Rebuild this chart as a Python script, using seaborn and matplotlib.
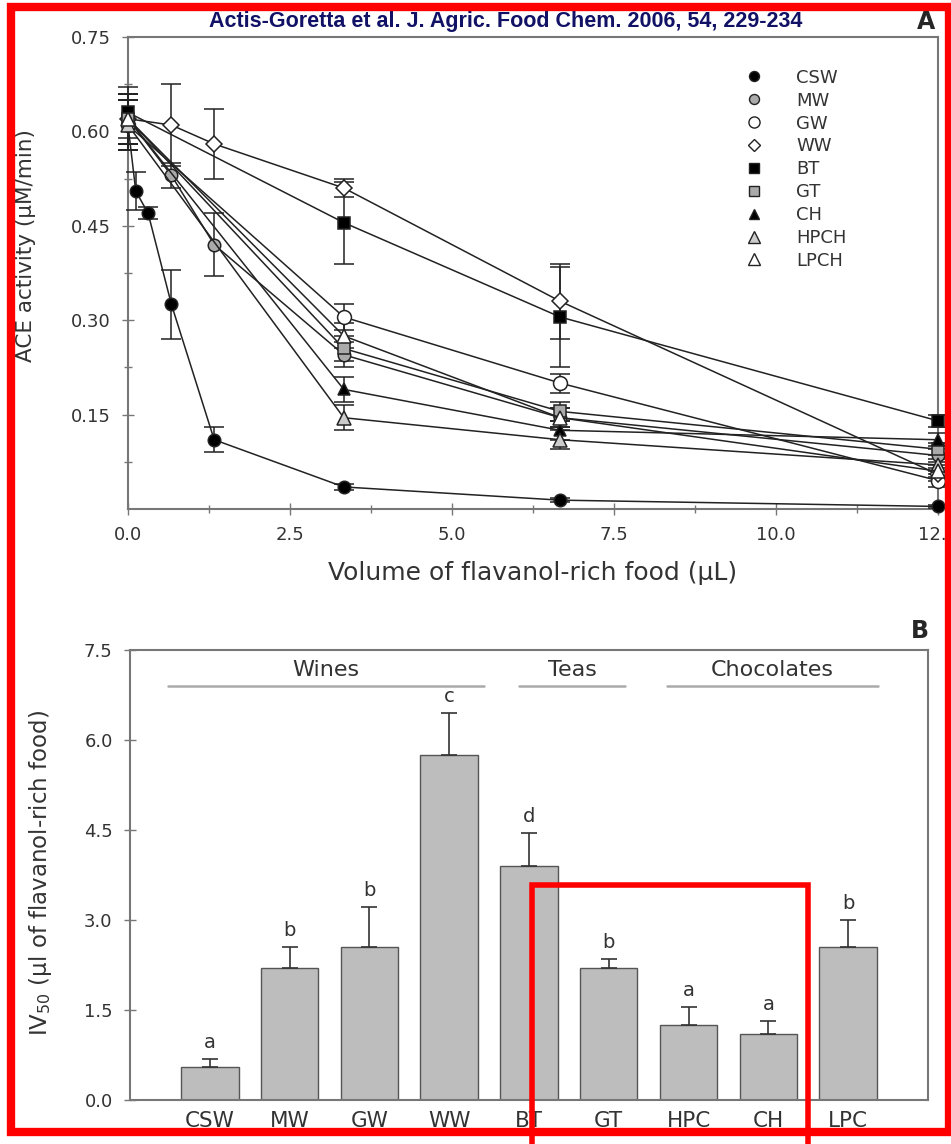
import matplotlib
matplotlib.use('Agg')
import matplotlib.pyplot as plt
import matplotlib.patches as mpatches
from matplotlib.lines import Line2D
import numpy as np
import pandas as pd
import seaborn as sns

# panel A: ACE activity vs volume
vol = [0, 0.67, 1.33, 3.33, 6.67, 12.5]
vol_short = [0, 3.33, 6.67, 12.5]
csw_vol = [0, 0.12, 0.31, 0.67, 1.33, 3.33, 6.67, 12.5]
csw = [0.61, 0.505, 0.47, 0.325, 0.11, 0.035, 0.014, 0.004]
csw_err = [0.04, 0.03, 0.01, 0.055, 0.02, 0.005, 0.003, 0.002]
mw = [0.62, 0.53, 0.42, 0.245, 0.145, 0.085]
mw_err = [0.04, 0.02, 0.05, 0.02, 0.015, 0.01]
gw = [0.61, 0.305, 0.20, 0.045]
ww = [0.62, 0.61, 0.58, 0.51, 0.33, 0.055]
ww_err = [0.04, 0.065, 0.055, 0.015, 0.06, 0.01]
bt = [0.63, 0.455, 0.305, 0.14]
bt_err = [0.04, 0.065, 0.08, 0.01]
gt = [0.62, 0.255, 0.155, 0.095]
ch = [0.62, 0.19, 0.125, 0.11]
hpch = [0.61, 0.145, 0.11, 0.07]
lpch = [0.62, 0.275, 0.145, 0.06]
err_small = [0.04, 0.02, 0.015, 0.01]

# panel B: IV50
foods = ['CSW', 'MW', 'GW', 'WW', 'BT', 'GT', 'HPC', 'CH', 'LPC']
iv50 = [0.55, 2.2, 2.55, 5.75, 3.9, 2.2, 1.25, 1.1, 2.55]
iv50_err = [0.13, 0.35, 0.67, 0.7, 0.55, 0.15, 0.3, 0.22, 0.45]
letters = ['a', 'b', 'b', 'c', 'd', 'b', 'a', 'a', 'b']
groups = ['Wines', 'Teas', 'Chocolates']

sns.set_style('ticks')
plt.rcParams['font.family'] = ['DejaVu Sans']
txt = '#333333'
spine = '#777777'

fig = plt.figure(figsize=(9.51, 11.44), dpi=100)
ax = fig.add_axes([0.1346, 0.5551, 0.8517, 0.4126])
ax2 = fig.add_axes([0.1367, 0.0385, 0.8390, 0.3934])

series = [
    ('CSW', csw_vol, csw, csw_err, 'o', 'black', 9),
    ('MW', vol, mw, mw_err, 'o', '#aaaaaa', 9),
    ('GW', vol_short, gw, err_small, 'o', 'white', 10),
    ('WW', vol, ww, ww_err, 'D', 'white', 8),
    ('BT', vol_short, bt, bt_err, 's', 'black', 9),
    ('GT', vol_short, gt, err_small, 's', '#aaaaaa', 9),
    ('CH', vol_short, ch, err_small, '^', 'black', 9),
    ('HPCH', vol_short, hpch, err_small, '^', '#cccccc', 10),
    ('LPCH', vol_short, lpch, err_small, '^', 'white', 10),
]
handles = []
for name, xs, ys, es, mk, fc, ms in series:
    ax.errorbar(xs, ys, yerr=es, fmt='-', color='#222222', lw=1.1,
                marker=mk, mfc=fc, mec='#222222', mew=1.1, ms=ms,
                ecolor='#222222', elinewidth=1.1, capsize=7, capthick=1.1,
                clip_on=False, zorder=3)
    handles.append(Line2D([], [], ls='none', marker=mk, mfc=fc, mec='#222222',
                          mew=1.0, ms=ms * 0.8, label=name))

ax.set_xlim(0, 12.5)
ax.set_ylim(0, 0.75)
ax.set_xticks([0, 2.5, 5.0, 7.5, 10.0, 12.5])
ax.set_xticklabels(['0.0', '2.5', '5.0', '7.5', '10.0', '12.5'])
ax.set_xticks(np.arange(1.25, 12.5, 2.5), minor=True)
ax.set_yticks([0.15, 0.30, 0.45, 0.60, 0.75])
ax.set_yticks(np.arange(0.075, 0.75, 0.15), minor=True)
ax.tick_params(direction='inout', length=9, width=1, colors=spine,
               labelcolor=txt, labelsize=13, pad=8)
ax.tick_params(which='minor', direction='inout', length=6, width=1, colors=spine)
for s in ax.spines.values():
    s.set_color(spine)
    s.set_linewidth(1.5)
ax.set_xlabel('Volume of flavanol-rich food (\u00b5L)', fontsize=18, color=txt, labelpad=12)
ax.set_ylabel('ACE activity (\u00b5M/min)', fontsize=15.5, color=txt)
ax.yaxis.set_label_coords(-0.1136, 0.557)
leg = ax.legend(handles=handles, loc='upper left', bbox_to_anchor=(0.74, 0.967),
                frameon=False, fontsize=13, handlelength=1.2, handletextpad=1.7,
                labelspacing=0.27)
for t in leg.get_texts():
    t.set_color(txt)
ax.text(0.985, 1.032, 'A', transform=ax.transAxes, fontsize=17, fontweight='bold',
        ha='center', va='center')

fig.text(0.532, 0.981, 'Actis-Goretta et al. J. Agric. Food Chem. 2006, 54, 229-234',
         family=['Liberation Sans Narrow', 'Liberation Sans', 'DejaVu Sans'],
         fontsize=15.5, fontweight='bold', color='#111166', ha='center', va='center')

# panel B bars
df = pd.DataFrame({'food': foods, 'iv50': iv50})
sns.barplot(data=df, x='food', y='iv50', color='#bdbdbd', edgecolor='#555555',
            linewidth=1, width=0.72, saturation=1, ax=ax2)
xpos = np.arange(len(foods))
ax2.errorbar(xpos, iv50, yerr=[np.zeros(len(iv50)), iv50_err], fmt='none',
             ecolor='#333333', elinewidth=1.2, capsize=6, capthick=1.2)
for x, v, e, l in zip(xpos, iv50, iv50_err, letters):
    ax2.text(x, v + e + 0.12, l, ha='center', va='bottom', fontsize=14, color=txt)

spans = [(-0.525, 3.44), (3.875, 5.21), (5.725, 8.375)]
for g, (a, b) in zip(groups, spans):
    ax2.plot([a, b], [6.9, 6.9], color='#aaaaaa', lw=1.8)
    ax2.text((a + b) / 2, 7.17, g, ha='center', va='center', fontsize=16, color=txt)

ax2.set_xlim(-1, 9)
ax2.set_ylim(0, 7.5)
ax2.set_yticks([0.0, 1.5, 3.0, 4.5, 6.0, 7.5])
ax2.set_yticklabels(['0.0', '1.5', '3.0', '4.5', '6.0', '7.5'])
ax2.tick_params(axis='y', direction='inout', length=9, width=1, colors=spine,
                labelcolor=txt, labelsize=13, pad=8)
ax2.tick_params(axis='x', length=0, labelcolor=txt, labelsize=15.5, pad=8)
for s in ax2.spines.values():
    s.set_color(spine)
    s.set_linewidth(1.5)
ax2.set_xlabel('')
ax2.set_ylabel('IV$_{50}$ (\u00b5l of flavanol-rich food)', fontsize=16.5, color=txt)
ax2.yaxis.set_label_coords(-0.095, 0.504)
ax2.text(0.99, 1.015, 'B', transform=ax2.transAxes, fontsize=17, fontweight='bold',
         ha='center', va='bottom')

# red annotation boxes
fig.patches.append(mpatches.Rectangle((11 / 951, 1 - 1132 / 1144), 938 / 951, 1125 / 1144,
                                      transform=fig.transFigure, fill=False,
                                      edgecolor='#ff0000', lw=6, zorder=10))
fig.patches.append(mpatches.Rectangle((532 / 951, -0.01), 276 / 951, 1 - 885 / 1144 + 0.01,
                                      transform=fig.transFigure, fill=False,
                                      edgecolor='#ff0000', lw=4, zorder=10))

fig.savefig('out.png', dpi=100)
